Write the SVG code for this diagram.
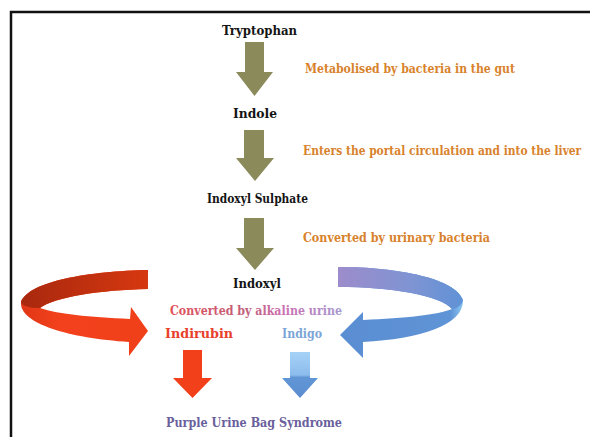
<svg xmlns="http://www.w3.org/2000/svg" width="590" height="437" viewBox="0 0 590 437">
<defs>
<style>
.t{font-family:"DejaVu Serif","Liberation Serif",serif;font-weight:bold;font-size:12.5px;}
.k{fill:#141414;}
.o{fill:#d8822c;}
.olive{fill:#8b8a5b;}
</style>
<linearGradient id="redBack" x1="0" y1="0" x2="1" y2="0">
<stop offset="0" stop-color="#a8280e"/>
<stop offset="1" stop-color="#d63810"/>
</linearGradient>
<linearGradient id="redFront" x1="0" y1="0" x2="1" y2="0">
<stop offset="0" stop-color="#e03616"/>
<stop offset="0.3" stop-color="#f2411c"/>
<stop offset="1" stop-color="#f0401a"/>
</linearGradient>
<linearGradient id="blueBack" x1="0" y1="0" x2="1" y2="0">
<stop offset="0" stop-color="#9d8ccb"/>
<stop offset="0.6" stop-color="#7e94d3"/>
<stop offset="1" stop-color="#5f92d6"/>
</linearGradient>
<linearGradient id="blueFront" x1="1" y1="0" x2="0" y2="0">
<stop offset="0" stop-color="#8cc8f2"/>
<stop offset="0.1" stop-color="#5f94d6"/>
<stop offset="1" stop-color="#5a8dd2"/>
</linearGradient>
<linearGradient id="blueDown" x1="0" y1="0" x2="0" y2="1">
<stop offset="0" stop-color="#a6d2f7"/>
<stop offset="0.5" stop-color="#8cbcec"/>
<stop offset="0.55" stop-color="#6196d6"/>
<stop offset="1" stop-color="#5a8dd0"/>
</linearGradient>
<linearGradient id="alk" x1="170" y1="0" x2="342" y2="0" gradientUnits="userSpaceOnUse">
<stop offset="0" stop-color="#e2505a"/>
<stop offset="0.45" stop-color="#c0607a"/>
<stop offset="0.65" stop-color="#cc6fb0"/>
<stop offset="1" stop-color="#a59ad0"/>
</linearGradient>
</defs>
<rect x="0" y="0" width="590" height="437" fill="#ffffff"/>
<path d="M11,437 V12 H590" fill="none" stroke="#111" stroke-width="2.5"/>

<g id="connectors">
<path class="olive" d="M245,42 H264 V72 H273 L254.5,96 L236,72 H245 Z"/>
<path class="olive" d="M244,130 H264 V158 H274 L255,181 L236,158 H244 Z"/>
<path class="olive" d="M244,218 H264 V248 H274 L255,270 L236,248 H244 Z"/>
<path fill="url(#redFront)" d="M148,270 C90,271 29,281 21,302 C19,324 70,338 129,342 L129,356 L148,331 L131,307 L130,319 C90,317 56,314 40,308 C55,297 100,290 148,289 Z"/>
<path fill="url(#redBack)" d="M148,270 C90,271 29,281 21,302 C22,306 30,308 40,308 C55,297 100,290 148,289 Z"/>
<path fill="url(#blueFront)" d="M338,267 C400,267 456,279 463,300 C464,325 420,339 363,342 L363,358 L340,335 L363,312 L363,320 C405,318 438,315 452,309 C440,295 390,287 338,287 Z"/>
<path fill="url(#blueBack)" d="M338,267 C400,267 456,279 463,300 C462,305 458,308 452,309 C440,295 390,287 338,287 Z"/>
<path fill="#f2401a" d="M183,350 H202 V378 H212 L192.5,398 L173,378 H183 Z"/>
<path fill="url(#blueDown)" d="M290,352 H310 V378 H318 L300,398 L282,378 H290 Z"/>
</g>

<g id="tryptophan"><text class="t k" x="259.5" y="35" text-anchor="middle" textLength="75" lengthAdjust="spacingAndGlyphs">Tryptophan</text></g>
<g id="label1"><text class="t o" x="305" y="73" textLength="210" lengthAdjust="spacingAndGlyphs">Metabolised by bacteria in the gut</text></g>
<g id="indole"><text class="t k" x="255" y="118" text-anchor="middle" textLength="44" lengthAdjust="spacingAndGlyphs">Indole</text></g>
<g id="label2" transform="translate(303,155) scale(0.74,1)"><text class="t o" x="0" y="0" textLength="376" lengthAdjust="spacingAndGlyphs">Enters the portal circulation and into the liver</text></g>
<g id="indoxyl-sulphate"><text class="t k" x="257.5" y="203" text-anchor="middle" textLength="101" lengthAdjust="spacingAndGlyphs">Indoxyl Sulphate</text></g>
<g id="label3"><text class="t o" x="303" y="242" textLength="187" lengthAdjust="spacingAndGlyphs">Converted by urinary bacteria</text></g>
<g id="indoxyl"><text class="t k" x="257" y="288" text-anchor="middle" textLength="48" lengthAdjust="spacingAndGlyphs">Indoxyl</text></g>
<g id="label4"><text class="t" x="170" y="315" fill="url(#alk)" textLength="172" lengthAdjust="spacingAndGlyphs">Converted by alkaline urine</text></g>
<g id="indirubin"><text class="t" x="165" y="338" fill="#e8402c" textLength="68" lengthAdjust="spacingAndGlyphs">Indirubin</text></g>
<g id="indigo"><text class="t" x="282" y="338" fill="#7ca6d8" textLength="40" lengthAdjust="spacingAndGlyphs">Indigo</text></g>
<g id="purple"><text class="t" x="166" y="427" fill="#6a5f9c" textLength="176" lengthAdjust="spacingAndGlyphs">Purple Urine Bag Syndrome</text></g>
</svg>
